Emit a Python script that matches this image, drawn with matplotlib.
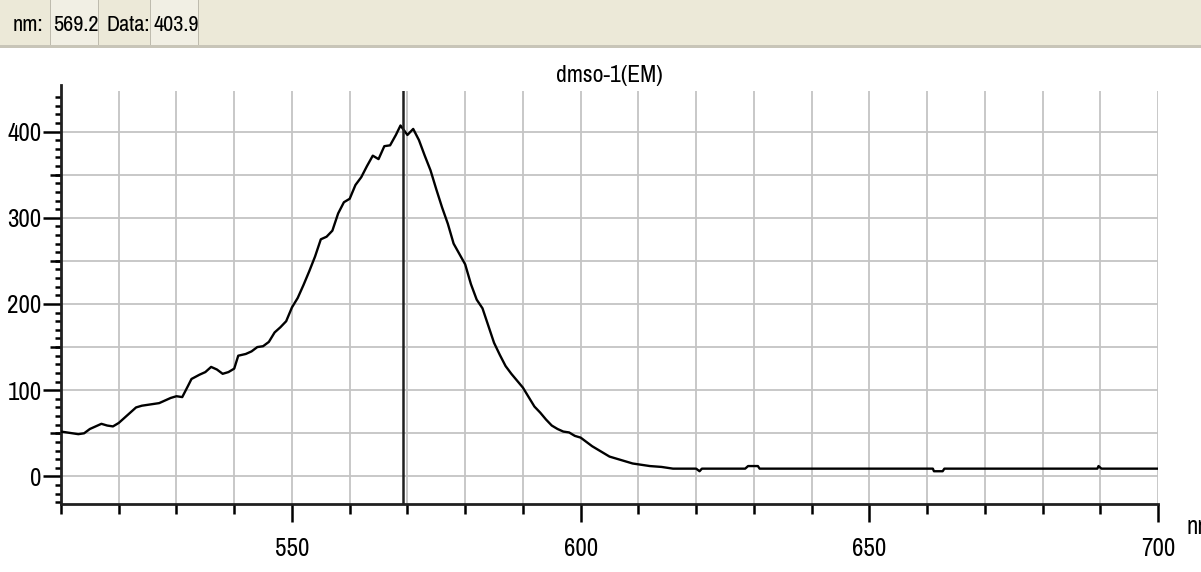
import matplotlib.pyplot as plt
import matplotlib.font_manager as fm
from matplotlib.patches import Rectangle
from matplotlib.ticker import MultipleLocator, FuncFormatter

# emission spectrum
wavelength = [510, 511, 512, 513, 514, 515, 516, 517, 518, 519,
              520, 521, 522, 523, 524, 525, 526, 527, 528, 529,
              530, 531, 532, 532.6, 534, 535, 536, 537, 538, 539,
              540, 540.7, 542, 543, 544, 545, 546, 547, 548, 549,
              550, 551, 552, 553, 554, 555, 556, 557, 558, 559,
              560, 561, 562, 563, 564, 565, 566, 567, 568, 568.8,
              570, 571, 572, 573, 574, 575, 576, 577, 578, 579,
              580, 581, 582, 583, 584, 585, 586, 587, 588, 589,
              590, 591, 592, 593, 594, 595, 596, 597, 598, 599,
              600, 601, 602, 603, 604, 605, 606, 607, 608, 609,
              610, 612, 614, 616, 618, 620, 620.6, 621, 628.5, 629,
              630.7, 631, 661, 661.2, 662.7, 663, 689.5, 689.7, 690.2, 700]
intensity = [52, 51, 50, 49, 50, 55, 58, 61, 59, 58,
             62, 68, 74, 80, 82, 83, 84, 85, 88, 91,
             93, 92, 105, 113, 118, 121, 127, 124, 119, 121,
             125, 140, 142, 145, 150, 151, 156, 167, 173, 180,
             196, 207, 222, 238, 255, 275, 278, 285, 305, 318,
             322, 338, 347, 360, 372, 368, 383, 384, 396, 407,
             396, 403, 390, 372, 355, 333, 312, 293, 270, 258,
             246, 223, 205, 195, 175, 155, 141, 128, 119, 111,
             103, 92, 81, 74, 66, 59, 55, 52, 51, 47,
             45, 40, 35, 31, 27, 23, 21, 19, 17, 15,
             14, 12, 11, 9, 9, 9, 6, 9, 9, 12,
             12, 9, 9, 6, 6, 9, 9, 12, 9, 9]

cursor_nm = 569.2
cursor_val = 403.9
title = "dmso-1(EM)"

# pick a narrow font if there is one
installed = set(f.name for f in fm.fontManager.ttflist)
narrow = ["Liberation Sans Narrow", "Arial Narrow", "Archivo Narrow", "PT Sans Narrow",
          "Roboto Condensed", "Open Sans Condensed", "Encode Sans Condensed",
          "Asap Condensed", "IBM Plex Sans Condensed", "Saira Condensed"]
font = [n for n in narrow if n in installed][:1] + ["DejaVu Sans"]

W, H = 1201, 572
fig = plt.figure(figsize=(W / 100, H / 100), dpi=100)
fig.patch.set_facecolor("white")

# status bar on top
bar_col = "#ECE9D8"
fig.patches.append(Rectangle((0, 1 - 45 / H), 1, 45 / H, transform=fig.transFigure,
                             facecolor=bar_col, edgecolor="none"))
fig.patches.append(Rectangle((0, 1 - 48 / H), 1, 3 / H, transform=fig.transFigure,
                             facecolor="#C8C5B8", edgecolor="none"))
for x0, x1 in [(50, 98), (150, 198)]:
    fig.patches.append(Rectangle((x0 / W, 1 - 45 / H), (x1 - x0) / W, 45 / H,
                                 transform=fig.transFigure, facecolor="#F1EFE4",
                                 edgecolor="none"))
for xs in [50, 98, 150, 198]:
    fig.patches.append(Rectangle((xs / W, 1 - 45 / H), 1 / W, 45 / H,
                                 transform=fig.transFigure, facecolor="#BEBBAE",
                                 edgecolor="none"))
bar_y = 1 - 25 / H
fig.text(13 / W, bar_y, "nm:", family=font, fontsize=16, va="center", ha="left")
fig.text(53 / W, bar_y, f"{cursor_nm:.1f}", family=font, fontsize=16, va="center", ha="left")
fig.text(106 / W, bar_y, "Data:", family=font, fontsize=16, va="center", ha="left")
fig.text(153 / W, bar_y, f"{cursor_val:.1f}", family=font, fontsize=16, va="center", ha="left")

ax = fig.add_axes([61 / W, 1 - 504 / H, (1158 - 61) / W, (504 - 91) / H])
ax.plot(wavelength, intensity, color="black", lw=1.7, zorder=3)
ax.axvline(cursor_nm, color="#202020", lw=1.8, zorder=4)

ax.set_xlim(510, 700)
ax.set_ylim(-32, 447)

for yv in range(0, 450, 50):
    ax.axhline(yv, color="#C4C4C4", lw=1.3, zorder=1)
ax.xaxis.set_major_locator(MultipleLocator(50))
ax.xaxis.set_minor_locator(MultipleLocator(10))
ax.grid(True, axis="x", which="both", color="#C4C4C4", lw=1.3, zorder=1)

ax.yaxis.set_major_locator(MultipleLocator(100))
ax.yaxis.set_minor_locator(MultipleLocator(10))
ax.tick_params(axis="x", which="major", length=13, width=1.8, pad=11, labelsize=18)
ax.tick_params(axis="x", which="minor", length=7, width=1.8)
ax.tick_params(axis="y", which="major", length=13, width=1.8, pad=1, labelsize=18)
ax.tick_params(axis="y", which="minor", length=4, width=1.8)
for lab in ax.get_xticklabels() + ax.get_yticklabels():
    lab.set_family(font)

sec = ax.secondary_yaxis("left")
sec.set_yticks([50, 150, 250, 350])
sec.yaxis.set_major_formatter(FuncFormatter(lambda v, p: ""))
sec.tick_params(length=8, width=1.8)
sec.spines["left"].set_visible(False)

for s in ["top", "right"]:
    ax.spines[s].set_visible(False)
for s in ["left", "bottom"]:
    ax.spines[s].set_linewidth(2)
    ax.spines[s].set_color("#202020")
ax.spines["left"].set_bounds(-32, 454)

fig.text(609.5 / W, 1 - 75 / H, title, family=font, fontsize=17, ha="center", va="center")
# axis unit sits at the right edge and is clipped there, as in the source
fig.text(1187 / W, 1 - 527 / H, "nm", family=font, fontsize=18, ha="left", va="center")

fig.savefig("out.png", dpi=100)
